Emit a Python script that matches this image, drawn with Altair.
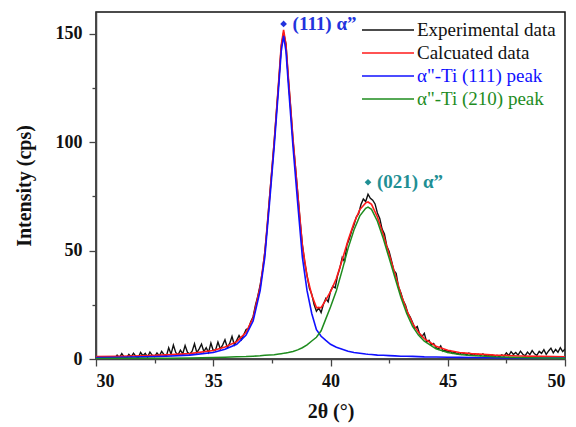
import altair as alt
import numpy as np
import pandas as pd

# ---------------- data ----------------
exp_start = 30.8   # first 2theta of the experimental scan, step 0.1
exp_y = [
    0.3, 1.8,
    0.6, 2.5, 0.9, 0.4, 2.1, 1.0, 2.7, 1.2, 0.6, 3.0,          # 31.0-31.9
    1.5, 2.6, 0.9, 3.2, 1.7, 1.1, 2.8, 1.4, 3.5, 2.0,          # 32.0-32.9
    1.3, 5.2, 2.2, 6.4, 3.0, 1.9, 4.1, 2.4, 6.2, 3.1,          # 33.0-33.9
    2.3, 3.6, 7.0, 2.9, 4.7, 6.9, 3.4, 5.2, 3.0, 7.3,          # 34.0-34.9
    3.9, 4.2, 7.8, 4.7, 6.4, 8.9, 5.3, 7.2, 10.4, 6.5,         # 35.0-35.9
    8.6, 10.8, 8.9, 11.2, 13.6, 14.1, 17.2, 19.5, 24.8, 29.0,  # 36.0-36.9
    34.0, 40.6, 49.5, 61.0, 74.5, 87.2, 100.5, 114.8, 129.0, 144.2,  # 37.0-37.9
    150.5, 145.3, 129.6, 116.1, 101.0, 89.2, 76.9, 64.1, 52.8, 44.6,  # 38.0-38.9
    38.5, 32.6, 29.9, 25.1, 22.0, 23.6, 21.4, 25.3, 27.9, 26.4,  # 39.0-39.9
    31.2, 33.5, 32.8, 38.4, 42.0, 46.8, 44.9, 52.6, 55.3, 59.0,  # 40.0-40.9
    61.8, 65.4, 67.0, 71.2, 73.8, 72.6, 76.0, 74.1, 73.2, 71.5,  # 41.0-41.9
    67.3, 64.8, 59.9, 57.6, 52.1, 49.6, 45.3, 40.8, 39.5, 33.2,  # 42.0-42.9
    30.6, 26.9, 24.8, 21.0, 19.3, 16.8, 14.1, 15.0, 11.6, 10.3,  # 43.0-43.9
    11.8, 7.9, 8.6, 6.4, 7.1, 5.3, 4.5, 6.0, 3.6, 4.2,           # 44.0-44.9
    3.1, 3.8, 2.6, 3.2, 2.3, 2.9, 2.1, 2.6, 1.9, 2.7,            # 45.0-45.9
    2.0, 2.4, 1.6, 2.2, 1.5, 2.3, 1.4, 1.9, 1.2, 1.8,            # 46.0-46.9
    1.1, 1.7, 1.0, 1.9, 1.3, 2.8, 1.6, 3.4, 2.1, 3.0,            # 47.0-47.9
    1.8, 3.6, 2.2, 1.5, 3.2, 2.0, 3.9, 2.4, 1.7, 3.5,            # 48.0-48.9
    2.6, 4.3, 2.1, 3.7, 5.0, 2.8, 4.4, 3.1, 5.2, 3.4,            # 49.0-49.9
    4.6,                                                         # 50.0
]

fit_x = [30, 31, 32, 33, 34, 35, 35.5, 36, 36.4, 36.7,
         37.0, 37.2, 37.4, 37.6, 37.8, 37.9, 38.0, 38.1, 38.2, 38.4,
         38.6, 38.8, 39.0, 39.2, 39.4, 39.6, 39.8, 40.0, 40.25, 40.5,
         40.75, 41.0, 41.25, 41.5, 41.6, 41.75, 42.0, 42.25, 42.5, 42.75,
         43.0, 43.25, 43.5, 43.75, 44.0, 44.5, 45, 45.5, 46, 47,
         48, 49, 50]
blue_y = [0.7, 0.8, 1.0, 1.3, 1.8, 3.0, 4.5, 6.8, 11.0, 17.5,
          31.5, 47, 72, 98, 127, 142, 149, 142, 127, 98,
          72, 47, 31.5, 21, 13.5, 10.5, 8.6, 6.8, 5.4, 4.5,
          3.6, 3.0, 2.65, 2.3, 2.2, 2.1, 1.8, 1.7, 1.55, 1.45,
          1.3, 1.25, 1.2, 1.1, 1.0, 0.95, 0.8, 0.75, 0.7, 0.6,
          0.5, 0.45, 0.4]
green_y = [0.2, 0.3, 0.3, 0.4, 0.5, 0.7, 0.8, 1.0, 1.1, 1.3,
           1.5, 1.7, 1.85, 2.0, 2.3, 2.45, 2.6, 2.8, 3.0, 3.5,
           4.2, 5.2, 6.5, 8.3, 10.0, 13.0, 18.5, 24, 31.5, 41,
           51, 59.5, 66, 69.5, 70, 69, 63.5, 55.5, 46.5, 37.5,
           28.5, 21, 15, 11, 8.2, 4.7, 3.0, 2.1, 1.6, 1.0,
           0.7, 0.5, 0.4]
red_y = [1.1, 1.3, 1.5, 1.9, 2.5, 3.9, 5.5, 8.0, 12.3, 19.0,
         33.2, 48.9, 74.1, 100.2, 129.5, 144.7, 151.8, 145.0, 130.2, 101.7,
         76.4, 52.4, 38.2, 29.5, 23.7, 23.7, 27.3, 31.0, 37.1, 45.7,
         54.8, 62.7, 68.9, 72.0, 72.4, 71.3, 65.5, 57.4, 48.3, 39.2,
         30.0, 22.5, 16.4, 12.3, 9.4, 5.9, 4.0, 3.0, 2.5, 1.8,
         1.4, 1.2, 1.0]

series_names = ["Experimental data", "Calcuated data",
                'α"-Ti (111)  peak', 'α"-Ti (210)  peak']
series_colors = ["#111111", "#ff1a1a", "#1010ff", "#1e8c1e"]

ann_x = [38.0, 41.6]
ann_y = [154.5, 81.5]
ann_text = ["(111) α”", "(021) α”"]
ann_color = ["#2233dd", "#1f8f94"]

x_ticks = [30, 32.5, 35, 37.5, 40, 42.5, 45, 47.5, 50]
y_ticks = [0, 25, 50, 75, 100, 125, 150]

# ---------------- tables ----------------
exp_x = np.round(exp_start + 0.1 * np.arange(len(exp_y)), 2)
df = pd.concat([
    pd.DataFrame({"x": exp_x, "y": exp_y, "series": series_names[0]}),
    pd.DataFrame({"x": fit_x, "y": red_y, "series": series_names[1]}),
    pd.DataFrame({"x": fit_x, "y": blue_y, "series": series_names[2]}),
    pd.DataFrame({"x": fit_x, "y": green_y, "series": series_names[3]}),
], ignore_index=True)
ann = pd.DataFrame({"x": ann_x, "y": ann_y, "t": ann_text, "c": ann_color})

SERIF = "Liberation Serif"

xenc = alt.X("x:Q", scale=alt.Scale(domain=[30, 50], nice=False, zero=False),
             axis=alt.Axis(values=x_ticks, title="2θ (°)", grid=False,
                           labelExpr="datum.value % 5 === 0 ? datum.label : ''",
                           tickSize={"condition": {"test": "datum.value % 5 !== 0", "value": 4}, "value": 7},
                           labelFont=SERIF, labelFontSize=18, labelFontWeight="bold",
                           labelColor="#111", labelPadding=6,
                           titleFont=SERIF, titleFontSize=20, titleFontWeight="bold",
                           titleColor="#111", titlePadding=11,
                           domainColor="#444", domainWidth=1.5, tickColor="#444", tickWidth=1.3))
yenc = alt.Y("y:Q", scale=alt.Scale(domain=[0, 160], nice=False),
             axis=alt.Axis(values=y_ticks, title="Intensity (cps)", grid=False,
                           labelExpr="datum.value % 50 === 0 ? datum.label : ''",
                           tickSize={"condition": {"test": "datum.value % 50 !== 0", "value": 4}, "value": 7},
                           labelFont=SERIF, labelFontSize=18, labelFontWeight="bold",
                           labelColor="#111", labelPadding=7,
                           titleFont=SERIF, titleFontSize=20, titleFontWeight="bold",
                           titleColor="#111", titlePadding=21,
                           domainColor="#444", domainWidth=1.5, tickColor="#444", tickWidth=1.3))

color = alt.Color("series:N",
                  scale=alt.Scale(domain=series_names, range=series_colors),
                  legend=alt.Legend(orient="none", legendX=297, legendY=7, title=None,
                                    symbolType="M-4.2,0H1", symbolSize=400, symbolStrokeWidth=1.6,
                                    labelFont=SERIF, labelFontSize=19, labelOffset=2,
                                    labelColor={"expr": "indexof(datum.label, '111') >= 0 ? '#1010ff' : (indexof(datum.label, '210') >= 0 ? '#1e8c1e' : '#111111')"},
                                    rowPadding=2, padding=0))

def line(name, w):
    return (alt.Chart(df).transform_filter(alt.datum.series == name)
            .mark_line(strokeWidth=w, clip=True)
            .encode(x=xenc, y=yenc, color=color))

layers = [line(series_names[0], 1.4), line(series_names[1], 1.6),
          line(series_names[2], 1.6), line(series_names[3], 1.5)]

pts = alt.Chart(ann).mark_point(shape="diamond", filled=True, size=45, opacity=1).encode(
    x="x:Q", y="y:Q", color=alt.Color("c:N", scale=None))
txt = alt.Chart(ann).mark_text(align="left", baseline="middle", dx=9, font=SERIF,
                               fontSize=19, fontWeight="bold").encode(
    x="x:Q", y="y:Q", text="t:N", color=alt.Color("c:N", scale=None))

chart = alt.layer(*layers, pts, txt).properties(
    width=469, height=347,
    autosize=alt.AutoSizeParams(type="none"),
    padding={"left": 88, "top": 4, "right": 3, "bottom": 64},
    background="white",
).configure_view(stroke="#111", strokeWidth=1.5)

chart.save("out.html", embed_options={"renderer": "svg", "actions": False})
